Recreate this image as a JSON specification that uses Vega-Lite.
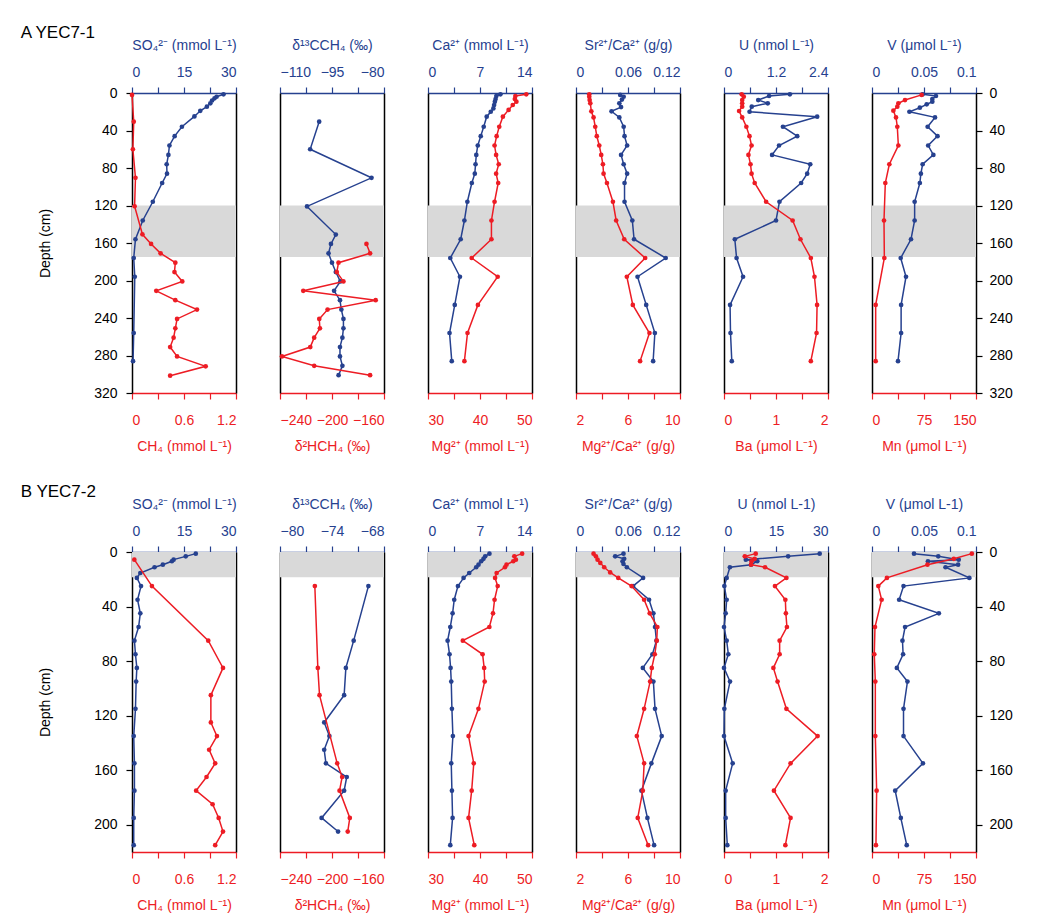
{
"$schema":"https://vega.github.io/schema/vega-lite/v6.json",
"padding":{"left":20,"top":24,"right":10,"bottom":10},
"background":"white",
"config":{
 "font":"Liberation Sans",
 "view":{"stroke":null},
 "axis":{"labelFont":"Liberation Sans","titleFont":"Liberation Sans","labelFontSize":14,"titleFontSize":14,"titleFontWeight":"normal","tickSize":6,"domainWidth":1.5,"tickWidth":1.2,"grid":false,"labelPadding":5,"titlePadding":10,"zindex":1},
 "axisTop":{"domainColor":"#26418f","tickColor":"#26418f","labelColor":"#26418f","titleColor":"#26418f","labelPadding":8,"titlePadding":13},
 "axisBottom":{"domainColor":"#ed1c24","tickColor":"#ed1c24","labelColor":"#ed1c24","titleColor":"#ed1c24","labelPadding":14,"titlePadding":12},
 "axisLeft":{"domainColor":"#000000","tickColor":"#000000","labelColor":"#000000","titleColor":"#000000","labelPadding":9,"titlePadding":41},
 "axisRight":{"domainColor":"#000000","tickColor":"#000000","labelColor":"#000000","titleColor":"#000000","labelPadding":7},
 "title":{"font":"Liberation Sans","fontSize":17,"fontWeight":"normal","anchor":"start","color":"#000000"}
},
"datasets":{
 "bandA":[{"d0":120,"d1":175}],
 "bandB":[{"d0":0,"d1":18.5}],
 "A":[
  {"v":"SO4","d":1.4,"x":26.4},{"v":"SO4","d":4,"x":24.4},{"v":"SO4","d":5.7,"x":23.8},{"v":"SO4","d":8,"x":23.1},{"v":"SO4","d":11,"x":22.6},{"v":"SO4","d":14.6,"x":21.6},{"v":"SO4","d":19,"x":19.7},{"v":"SO4","d":25,"x":18.0},{"v":"SO4","d":36,"x":14.4},{"v":"SO4","d":46,"x":12.3},{"v":"SO4","d":56,"x":10.8},{"v":"SO4","d":66,"x":10.5},{"v":"SO4","d":76,"x":10.0},{"v":"SO4","d":86,"x":10.1},{"v":"SO4","d":96,"x":8.7},{"v":"SO4","d":116,"x":6.0},{"v":"SO4","d":136,"x":3.1},{"v":"SO4","d":156,"x":1.0},{"v":"SO4","d":176,"x":0.5},{"v":"SO4","d":196,"x":0.8},{"v":"SO4","d":256,"x":0.5},{"v":"SO4","d":286,"x":0.3},
  {"v":"CH4","d":2,"x":0},{"v":"CH4","d":30.6,"x":0.02},{"v":"CH4","d":60,"x":0.01},{"v":"CH4","d":90.5,"x":0.04},{"v":"CH4","d":120.8,"x":0.03},{"v":"CH4","d":150.7,"x":0.12},{"v":"CH4","d":161,"x":0.22},{"v":"CH4","d":171,"x":0.33},{"v":"CH4","d":181,"x":0.50},{"v":"CH4","d":191,"x":0.49},{"v":"CH4","d":201,"x":0.58},{"v":"CH4","d":211,"x":0.28},{"v":"CH4","d":221,"x":0.50},{"v":"CH4","d":231,"x":0.75},{"v":"CH4","d":241,"x":0.52},{"v":"CH4","d":251,"x":0.50},{"v":"CH4","d":261,"x":0.48},{"v":"CH4","d":271,"x":0.44},{"v":"CH4","d":281,"x":0.52},{"v":"CH4","d":291.5,"x":0.85},{"v":"CH4","d":301.5,"x":0.44},
  {"v":"C13","d":30.6,"x":-98.7},{"v":"C13","d":60,"x":-101.3},{"v":"C13","d":90.5,"x":-83.6},{"v":"C13","d":121,"x":-102.2},{"v":"C13","d":151,"x":-93.9},{"v":"C13","d":161,"x":-95.3},{"v":"C13","d":171,"x":-96.0},{"v":"C13","d":181,"x":-95.0},{"v":"C13","d":191,"x":-93.9},{"v":"C13","d":201,"x":-92.6},{"v":"C13","d":211,"x":-94.4},{"v":"C13","d":221,"x":-92.7},{"v":"C13","d":231,"x":-92.3},{"v":"C13","d":241,"x":-91.7},{"v":"C13","d":251,"x":-91.7},{"v":"C13","d":261,"x":-92.0},{"v":"C13","d":271,"x":-92.7},{"v":"C13","d":281,"x":-92.7},{"v":"C13","d":291,"x":-92.0},{"v":"C13","d":301,"x":-93.1},
  {"v":"H2","d":161,"x":-173.5},{"v":"H2","d":171,"x":-170.7},{"v":"H2","d":181,"x":-195.0},{"v":"H2","d":191,"x":-196.3},{"v":"H2","d":201,"x":-191.2},{"v":"H2","d":211,"x":-222.1},{"v":"H2","d":221,"x":-166.4},{"v":"H2","d":231,"x":-203.4},{"v":"H2","d":241,"x":-209.8},{"v":"H2","d":251,"x":-209.3},{"v":"H2","d":261,"x":-213.7},{"v":"H2","d":271,"x":-216.7},{"v":"H2","d":281,"x":-238.5},{"v":"H2","d":291,"x":-213.7},{"v":"H2","d":301,"x":-170.7},
  {"v":"Ca","d":1.4,"x":9.75},{"v":"Ca","d":3.2,"x":9.2},{"v":"Ca","d":6.4,"x":9.1},{"v":"Ca","d":9.3,"x":9.0},{"v":"Ca","d":12.8,"x":8.9},{"v":"Ca","d":16.4,"x":8.8},{"v":"Ca","d":20,"x":8.45},{"v":"Ca","d":25.3,"x":7.9},{"v":"Ca","d":36,"x":7.5},{"v":"Ca","d":46,"x":7.1},{"v":"Ca","d":56,"x":6.7},{"v":"Ca","d":66,"x":6.5},{"v":"Ca","d":76,"x":6.4},{"v":"Ca","d":86,"x":6.3},{"v":"Ca","d":96,"x":5.9},{"v":"Ca","d":116,"x":5.3},{"v":"Ca","d":136,"x":4.9},{"v":"Ca","d":156,"x":4.4},{"v":"Ca","d":176,"x":3.0},{"v":"Ca","d":196,"x":4.3},{"v":"Ca","d":226,"x":3.6},{"v":"Ca","d":256,"x":2.9},{"v":"Ca","d":286,"x":3.2},
  {"v":"Mg","d":1.4,"x":48.9},{"v":"Mg","d":3.2,"x":46.8},{"v":"Mg","d":6.4,"x":46.7},{"v":"Mg","d":9.3,"x":47.0},{"v":"Mg","d":12.8,"x":46.3},{"v":"Mg","d":18,"x":45.5},{"v":"Mg","d":25.3,"x":44.4},{"v":"Mg","d":36,"x":43.7},{"v":"Mg","d":46,"x":43.2},{"v":"Mg","d":56,"x":42.8},{"v":"Mg","d":66,"x":43.1},{"v":"Mg","d":76,"x":43.6},{"v":"Mg","d":86,"x":43.1},{"v":"Mg","d":96,"x":43.5},{"v":"Mg","d":116,"x":42.8},{"v":"Mg","d":136,"x":42.2},{"v":"Mg","d":156,"x":42.2},{"v":"Mg","d":176,"x":38.4},{"v":"Mg","d":196,"x":43.4},{"v":"Mg","d":226,"x":39.6},{"v":"Mg","d":256,"x":37.6},{"v":"Mg","d":286,"x":37.0},
  {"v":"SrCa","d":2,"x":0.051},{"v":"SrCa","d":4,"x":0.055},{"v":"SrCa","d":7,"x":0.053},{"v":"SrCa","d":11,"x":0.050},{"v":"SrCa","d":15,"x":0.052},{"v":"SrCa","d":19.5,"x":0.041},{"v":"SrCa","d":26,"x":0.050},{"v":"SrCa","d":36,"x":0.055},{"v":"SrCa","d":46,"x":0.056},{"v":"SrCa","d":56,"x":0.059},{"v":"SrCa","d":66,"x":0.052},{"v":"SrCa","d":76,"x":0.055},{"v":"SrCa","d":86,"x":0.059},{"v":"SrCa","d":96,"x":0.056},{"v":"SrCa","d":116,"x":0.056},{"v":"SrCa","d":136,"x":0.065},{"v":"SrCa","d":156,"x":0.067},{"v":"SrCa","d":176,"x":0.1035},{"v":"SrCa","d":196,"x":0.071},{"v":"SrCa","d":226,"x":0.081},{"v":"SrCa","d":256,"x":0.091},{"v":"SrCa","d":286,"x":0.089},
  {"v":"MgCa","d":1.4,"x":3.02},{"v":"MgCa","d":4,"x":3.02},{"v":"MgCa","d":7.5,"x":3.05},{"v":"MgCa","d":11,"x":3.1},{"v":"MgCa","d":19.5,"x":3.18},{"v":"MgCa","d":26,"x":3.35},{"v":"MgCa","d":36,"x":3.48},{"v":"MgCa","d":46,"x":3.6},{"v":"MgCa","d":56,"x":3.79},{"v":"MgCa","d":66,"x":3.94},{"v":"MgCa","d":76,"x":4.07},{"v":"MgCa","d":86,"x":4.12},{"v":"MgCa","d":96,"x":4.38},{"v":"MgCa","d":116,"x":4.84},{"v":"MgCa","d":136,"x":5.09},{"v":"MgCa","d":156,"x":5.71},{"v":"MgCa","d":176,"x":7.32},{"v":"MgCa","d":196,"x":5.91},{"v":"MgCa","d":226,"x":6.37},{"v":"MgCa","d":256,"x":7.65},{"v":"MgCa","d":286,"x":6.93},
  {"v":"U","d":1.4,"x":1.52},{"v":"U","d":3.2,"x":1.04},{"v":"U","d":7.5,"x":0.79},{"v":"U","d":11,"x":1.01},{"v":"U","d":14.6,"x":0.64},{"v":"U","d":20,"x":0.59},{"v":"U","d":25.3,"x":2.15},{"v":"U","d":36,"x":1.36},{"v":"U","d":46,"x":1.69},{"v":"U","d":56,"x":1.27},{"v":"U","d":66,"x":1.11},{"v":"U","d":76,"x":1.99},{"v":"U","d":86,"x":1.92},{"v":"U","d":96,"x":1.78},{"v":"U","d":116,"x":1.28},{"v":"U","d":136,"x":1.20},{"v":"U","d":156,"x":0.25},{"v":"U","d":176,"x":0.29},{"v":"U","d":196,"x":0.44},{"v":"U","d":226,"x":0.14},{"v":"U","d":256,"x":0.15},{"v":"U","d":286,"x":0.18},
  {"v":"Ba","d":1.4,"x":0.34},{"v":"Ba","d":3.9,"x":0.38},{"v":"Ba","d":7.5,"x":0.35},{"v":"Ba","d":11,"x":0.35},{"v":"Ba","d":14.6,"x":0.35},{"v":"Ba","d":19.2,"x":0.29},{"v":"Ba","d":26,"x":0.35},{"v":"Ba","d":36,"x":0.43},{"v":"Ba","d":46,"x":0.49},{"v":"Ba","d":56,"x":0.53},{"v":"Ba","d":66,"x":0.47},{"v":"Ba","d":76,"x":0.51},{"v":"Ba","d":86,"x":0.53},{"v":"Ba","d":96,"x":0.59},{"v":"Ba","d":116,"x":0.81},{"v":"Ba","d":136,"x":1.32},{"v":"Ba","d":156,"x":1.47},{"v":"Ba","d":176,"x":1.67},{"v":"Ba","d":196,"x":1.74},{"v":"Ba","d":226,"x":1.79},{"v":"Ba","d":256,"x":1.78},{"v":"Ba","d":286,"x":1.67},
  {"v":"V","d":1.4,"x":0.0487},{"v":"V","d":3.2,"x":0.0615},{"v":"V","d":6.4,"x":0.058},{"v":"V","d":9.3,"x":0.058},{"v":"V","d":12.1,"x":0.0526},{"v":"V","d":15.7,"x":0.046},{"v":"V","d":20,"x":0.036},{"v":"V","d":26,"x":0.0606},{"v":"V","d":36,"x":0.0535},{"v":"V","d":46,"x":0.063},{"v":"V","d":56,"x":0.054},{"v":"V","d":66,"x":0.059},{"v":"V","d":76,"x":0.0487},{"v":"V","d":86,"x":0.047},{"v":"V","d":96,"x":0.046},{"v":"V","d":116,"x":0.041},{"v":"V","d":136,"x":0.041},{"v":"V","d":156,"x":0.0375},{"v":"V","d":176,"x":0.0276},{"v":"V","d":196,"x":0.0327},{"v":"V","d":226,"x":0.028},{"v":"V","d":256,"x":0.028},{"v":"V","d":286,"x":0.025},
  {"v":"Mn","d":2,"x":71.6},{"v":"Mn","d":7.5,"x":47.6},{"v":"Mn","d":11,"x":38.0},{"v":"Mn","d":14.6,"x":36.5},{"v":"Mn","d":18.9,"x":30.8},{"v":"Mn","d":26,"x":34.6},{"v":"Mn","d":36,"x":36.5},{"v":"Mn","d":56,"x":38.0},{"v":"Mn","d":76,"x":25.0},{"v":"Mn","d":96,"x":19.2},{"v":"Mn","d":136,"x":17.3},{"v":"Mn","d":176,"x":17.8},{"v":"Mn","d":226,"x":5.3},{"v":"Mn","d":286,"x":5.3}
 ],
 "B":[
  {"v":"SO4","d":1.2,"x":18.4},{"v":"SO4","d":3.2,"x":15.5},{"v":"SO4","d":5.6,"x":12.0},{"v":"SO4","d":6.8,"x":11.5},{"v":"SO4","d":9.3,"x":8.9},{"v":"SO4","d":11.2,"x":6.5},{"v":"SO4","d":15.4,"x":2.4},{"v":"SO4","d":19,"x":1.4},{"v":"SO4","d":25,"x":2.6},{"v":"SO4","d":35,"x":1.6},{"v":"SO4","d":45,"x":2.4},{"v":"SO4","d":55,"x":1.9},{"v":"SO4","d":65,"x":0.7},{"v":"SO4","d":75,"x":1.0},{"v":"SO4","d":85,"x":1.4},{"v":"SO4","d":95,"x":1.2},{"v":"SO4","d":115,"x":1.0},{"v":"SO4","d":135,"x":0.5},{"v":"SO4","d":155,"x":0.7},{"v":"SO4","d":175,"x":0.7},{"v":"SO4","d":195,"x":0.5},{"v":"SO4","d":215,"x":0.5},
  {"v":"CH4","d":5.6,"x":0.027},{"v":"CH4","d":25,"x":0.23},{"v":"CH4","d":65,"x":0.88},{"v":"CH4","d":85,"x":1.05},{"v":"CH4","d":105,"x":0.91},{"v":"CH4","d":125,"x":0.91},{"v":"CH4","d":135,"x":0.98},{"v":"CH4","d":145,"x":0.89},{"v":"CH4","d":155,"x":0.96},{"v":"CH4","d":165,"x":0.86},{"v":"CH4","d":175,"x":0.74},{"v":"CH4","d":185,"x":0.93},{"v":"CH4","d":195,"x":1.00},{"v":"CH4","d":205,"x":1.05},{"v":"CH4","d":215,"x":0.96},
  {"v":"C13","d":25,"x":-69.8},{"v":"C13","d":65,"x":-71.5},{"v":"C13","d":85,"x":-72.4},{"v":"C13","d":105,"x":-72.6},{"v":"C13","d":125,"x":-74.9},{"v":"C13","d":135,"x":-74.3},{"v":"C13","d":145,"x":-74.9},{"v":"C13","d":155,"x":-74.7},{"v":"C13","d":165,"x":-72.3},{"v":"C13","d":175,"x":-72.6},{"v":"C13","d":195,"x":-75.2},{"v":"C13","d":205,"x":-73.3},
  {"v":"H2","d":25,"x":-213.2},{"v":"H2","d":85,"x":-210.9},{"v":"H2","d":105,"x":-209.6},{"v":"H2","d":155,"x":-196.0},{"v":"H2","d":165,"x":-192.2},{"v":"H2","d":175,"x":-194.2},{"v":"H2","d":195,"x":-186.3},{"v":"H2","d":205,"x":-187.9},
  {"v":"Ca","d":1.2,"x":8.27},{"v":"Ca","d":3.2,"x":7.7},{"v":"Ca","d":5,"x":7.47},{"v":"Ca","d":6.8,"x":7.16},{"v":"Ca","d":9.3,"x":6.8},{"v":"Ca","d":11.2,"x":6.49},{"v":"Ca","d":15.4,"x":5.55},{"v":"Ca","d":19,"x":4.79},{"v":"Ca","d":25,"x":4.03},{"v":"Ca","d":35,"x":3.53},{"v":"Ca","d":45,"x":3.31},{"v":"Ca","d":55,"x":3.0},{"v":"Ca","d":65,"x":2.64},{"v":"Ca","d":75,"x":2.9},{"v":"Ca","d":85,"x":3.04},{"v":"Ca","d":95,"x":3.13},{"v":"Ca","d":115,"x":3.22},{"v":"Ca","d":135,"x":3.35},{"v":"Ca","d":155,"x":3.13},{"v":"Ca","d":175,"x":3.22},{"v":"Ca","d":195,"x":3.31},{"v":"Ca","d":215,"x":3.0},
  {"v":"Mg","d":1.2,"x":48.1},{"v":"Mg","d":3.2,"x":46.6},{"v":"Mg","d":5.6,"x":46.9},{"v":"Mg","d":6.8,"x":46.4},{"v":"Mg","d":9.3,"x":45.1},{"v":"Mg","d":11.2,"x":44.8},{"v":"Mg","d":15.4,"x":43.2},{"v":"Mg","d":19,"x":42.9},{"v":"Mg","d":25,"x":43.4},{"v":"Mg","d":35,"x":42.8},{"v":"Mg","d":45,"x":42.5},{"v":"Mg","d":55,"x":41.8},{"v":"Mg","d":65,"x":36.7},{"v":"Mg","d":75,"x":40.5},{"v":"Mg","d":85,"x":40.8},{"v":"Mg","d":95,"x":40.9},{"v":"Mg","d":115,"x":39.7},{"v":"Mg","d":135,"x":37.8},{"v":"Mg","d":155,"x":38.8},{"v":"Mg","d":175,"x":38.4},{"v":"Mg","d":195,"x":37.8},{"v":"Mg","d":215,"x":38.9},
  {"v":"SrCa","d":1.2,"x":0.0548},{"v":"SrCa","d":3.2,"x":0.0452},{"v":"SrCa","d":5,"x":0.0556},{"v":"SrCa","d":6.8,"x":0.0537},{"v":"SrCa","d":8.8,"x":0.0548},{"v":"SrCa","d":11.2,"x":0.0587},{"v":"SrCa","d":19,"x":0.0774},{"v":"SrCa","d":25,"x":0.0659},{"v":"SrCa","d":35,"x":0.0843},{"v":"SrCa","d":45,"x":0.0893},{"v":"SrCa","d":55,"x":0.0912},{"v":"SrCa","d":65,"x":0.0928},{"v":"SrCa","d":75,"x":0.0882},{"v":"SrCa","d":85,"x":0.0771},{"v":"SrCa","d":95,"x":0.0893},{"v":"SrCa","d":115,"x":0.0912},{"v":"SrCa","d":135,"x":0.0989},{"v":"SrCa","d":155,"x":0.087},{"v":"SrCa","d":175,"x":0.0755},{"v":"SrCa","d":195,"x":0.0824},{"v":"SrCa","d":215,"x":0.0901},
  {"v":"MgCa","d":1.2,"x":3.35},{"v":"MgCa","d":3.2,"x":3.53},{"v":"MgCa","d":5.6,"x":3.66},{"v":"MgCa","d":8,"x":3.87},{"v":"MgCa","d":11.2,"x":4.17},{"v":"MgCa","d":15,"x":4.63},{"v":"MgCa","d":19,"x":5.25},{"v":"MgCa","d":25,"x":6.27},{"v":"MgCa","d":35,"x":7.24},{"v":"MgCa","d":45,"x":7.67},{"v":"MgCa","d":55,"x":8.26},{"v":"MgCa","d":65,"x":8.21},{"v":"MgCa","d":75,"x":8.06},{"v":"MgCa","d":85,"x":7.83},{"v":"MgCa","d":95,"x":7.70},{"v":"MgCa","d":115,"x":7.24},{"v":"MgCa","d":135,"x":6.68},{"v":"MgCa","d":155,"x":7.24},{"v":"MgCa","d":175,"x":7.14},{"v":"MgCa","d":195,"x":6.75},{"v":"MgCa","d":215,"x":7.55},
  {"v":"U","d":1.2,"x":27.6},{"v":"U","d":3.2,"x":18.5},{"v":"U","d":5.6,"x":6.3},{"v":"U","d":6.8,"x":9.6},{"v":"U","d":9.3,"x":7.8},{"v":"U","d":11.2,"x":1.7},{"v":"U","d":19,"x":0.77},{"v":"U","d":25,"x":0.1},{"v":"U","d":35,"x":0.77},{"v":"U","d":45,"x":0.48},{"v":"U","d":55,"x":0},{"v":"U","d":65,"x":0.77},{"v":"U","d":75,"x":1.25},{"v":"U","d":85,"x":0},{"v":"U","d":95,"x":1.73},{"v":"U","d":115,"x":0.1},{"v":"U","d":135,"x":0},{"v":"U","d":155,"x":2.5},{"v":"U","d":175,"x":0.48},{"v":"U","d":195,"x":0.48},{"v":"U","d":215,"x":0.96},
  {"v":"Ba","d":1.2,"x":0.61},{"v":"Ba","d":3.2,"x":0.40},{"v":"Ba","d":5,"x":0.59},{"v":"Ba","d":6.8,"x":0.53},{"v":"Ba","d":9.3,"x":0.52},{"v":"Ba","d":11.2,"x":0.79},{"v":"Ba","d":19,"x":1.20},{"v":"Ba","d":25,"x":0.98},{"v":"Ba","d":35,"x":1.18},{"v":"Ba","d":45,"x":1.19},{"v":"Ba","d":55,"x":1.21},{"v":"Ba","d":65,"x":1.07},{"v":"Ba","d":75,"x":1.07},{"v":"Ba","d":85,"x":0.95},{"v":"Ba","d":95,"x":1.03},{"v":"Ba","d":115,"x":1.20},{"v":"Ba","d":135,"x":1.80},{"v":"Ba","d":155,"x":1.28},{"v":"Ba","d":175,"x":0.96},{"v":"Ba","d":195,"x":1.28},{"v":"Ba","d":215,"x":1.18},
  {"v":"V","d":1.2,"x":0.0404},{"v":"V","d":3.2,"x":0.0637},{"v":"V","d":5.6,"x":0.0834},{"v":"V","d":6.8,"x":0.0538},{"v":"V","d":9.3,"x":0.0828},{"v":"V","d":11.2,"x":0.0707},{"v":"V","d":19,"x":0.0936},{"v":"V","d":25,"x":0.0303},{"v":"V","d":35,"x":0.0261},{"v":"V","d":45,"x":0.0643},{"v":"V","d":55,"x":0.0318},{"v":"V","d":65,"x":0.0293},{"v":"V","d":75,"x":0.0299},{"v":"V","d":85,"x":0.0239},{"v":"V","d":95,"x":0.0341},{"v":"V","d":115,"x":0.0303},{"v":"V","d":135,"x":0.0303},{"v":"V","d":155,"x":0.049},{"v":"V","d":175,"x":0.0223},{"v":"V","d":195,"x":0.0277},{"v":"V","d":215,"x":0.0334},
  {"v":"Mn","d":1.2,"x":144},{"v":"Mn","d":5,"x":118},{"v":"Mn","d":9.3,"x":80},{"v":"Mn","d":19,"x":21.5},{"v":"Mn","d":25,"x":9.1},{"v":"Mn","d":35,"x":13.9},{"v":"Mn","d":55,"x":4.3},{"v":"Mn","d":75,"x":3.3},{"v":"Mn","d":95,"x":4.8},{"v":"Mn","d":135,"x":4.8},{"v":"Mn","d":175,"x":6.7},{"v":"Mn","d":215,"x":5.7}
 ]
},
"spacing":30,
"bounds":"full",
"vconcat":[
 {"title":{"text":"A  YEC7-1","dx":-18,"offset":-4,"frame":"bounds"},
  "spacing":44,"bounds":"flush","resolve":{"scale":{"x":"independent","y":"independent"}},
  "hconcat":[
   {"width":104,"height":300,"resolve":{"scale":{"x":"independent"},"axis":{"y":"independent"}},"layer":[
    {"data":{"name":"bandA"},"mark":{"type":"rect","color":"#d9d9d9"},"encoding":{"y":{"field":"d0","type":"quantitative","scale":{"domain":[0,320],"reverse":true,"nice":false,"zero":false},"axis":{"orient":"left","values":[0,40,80,120,160,200,240,280,320],"title":"Depth (cm)"}},"y2":{"field":"d1"}}},
    {"data":{"name":"A"},"transform":[{"filter":"datum.v=='SO4'"}],"mark":{"type":"line","color":"#26418f","strokeWidth":1.5,"point":{"filled":true,"size":22,"color":"#26418f"}},"encoding":{"x":{"field":"x","type":"quantitative","scale":{"domain":[0,30],"nice":false,"zero":false},"axis":{"orient":"top","title":"SO₄²⁻ (mmol L⁻¹)","values":[0,7.5,15,22.5,30],"format":"~f","labelExpr":"indexof([0,15,30],datum.value)<0?'':datum.label"}},"y":{"field":"d","type":"quantitative","scale":{"domain":[0,320],"reverse":true,"nice":false,"zero":false},"axis":{"orient":"right","labels":false,"ticks":false,"title":null}},"order":{"field":"d","type":"quantitative"}}},
    {"data":{"name":"A"},"transform":[{"filter":"datum.v=='CH4'"}],"mark":{"type":"line","color":"#ed1c24","strokeWidth":1.5,"point":{"filled":true,"size":22,"color":"#ed1c24"}},"encoding":{"x":{"field":"x","type":"quantitative","scale":{"domain":[0,1.2],"nice":false,"zero":false},"axis":{"orient":"bottom","title":"CH₄ (mmol L⁻¹)","values":[0,0.3,0.6,0.9,1.2],"format":"~f","labelExpr":"indexof([0,0.6,1.2],datum.value)<0?'':datum.label"}},"y":{"field":"d","type":"quantitative","scale":{"domain":[0,320],"reverse":true,"nice":false,"zero":false},"axis":null},"order":{"field":"d","type":"quantitative"}}}
   ]},
   {"width":104,"height":300,"resolve":{"scale":{"x":"independent"},"axis":{"y":"independent"}},"layer":[
    {"data":{"name":"bandA"},"mark":{"type":"rect","color":"#d9d9d9"},"encoding":{"y":{"field":"d0","type":"quantitative","scale":{"domain":[0,320],"reverse":true,"nice":false,"zero":false},"axis":{"orient":"left","labels":false,"ticks":false,"title":null}},"y2":{"field":"d1"}}},
    {"data":{"name":"A"},"transform":[{"filter":"datum.v=='C13'"}],"mark":{"type":"line","color":"#26418f","strokeWidth":1.5,"point":{"filled":true,"size":22,"color":"#26418f"}},"encoding":{"x":{"field":"x","type":"quantitative","scale":{"domain":[-110,-80],"nice":false,"zero":false},"axis":{"orient":"top","title":"δ¹³CCH₄ (‰)","values":[-110,-102.5,-95,-87.5,-80],"format":"~f","labelExpr":"indexof([-110,-95,-80],datum.value)<0?'':datum.label"}},"y":{"field":"d","type":"quantitative","scale":{"domain":[0,320],"reverse":true,"nice":false,"zero":false},"axis":{"orient":"right","labels":false,"ticks":false,"title":null}},"order":{"field":"d","type":"quantitative"}}},
    {"data":{"name":"A"},"transform":[{"filter":"datum.v=='H2'"}],"mark":{"type":"line","color":"#ed1c24","strokeWidth":1.5,"point":{"filled":true,"size":22,"color":"#ed1c24"}},"encoding":{"x":{"field":"x","type":"quantitative","scale":{"domain":[-240,-160],"nice":false,"zero":false},"axis":{"orient":"bottom","title":"δ²HCH₄ (‰)","values":[-240,-220,-200,-180,-160],"format":"~f","labelExpr":"indexof([-240,-200,-160],datum.value)<0?'':datum.label"}},"y":{"field":"d","type":"quantitative","scale":{"domain":[0,320],"reverse":true,"nice":false,"zero":false},"axis":null},"order":{"field":"d","type":"quantitative"}}}
   ]},
   {"width":104,"height":300,"resolve":{"scale":{"x":"independent"},"axis":{"y":"independent"}},"layer":[
    {"data":{"name":"bandA"},"mark":{"type":"rect","color":"#d9d9d9"},"encoding":{"y":{"field":"d0","type":"quantitative","scale":{"domain":[0,320],"reverse":true,"nice":false,"zero":false},"axis":{"orient":"left","labels":false,"ticks":false,"title":null}},"y2":{"field":"d1"}}},
    {"data":{"name":"A"},"transform":[{"filter":"datum.v=='Ca'"}],"mark":{"type":"line","color":"#26418f","strokeWidth":1.5,"point":{"filled":true,"size":22,"color":"#26418f"}},"encoding":{"x":{"field":"x","type":"quantitative","scale":{"domain":[0,14],"nice":false,"zero":false},"axis":{"orient":"top","title":"Ca²⁺ (mmol L⁻¹)","values":[0,3.5,7,10.5,14],"format":"~f","labelExpr":"indexof([0,7,14],datum.value)<0?'':datum.label"}},"y":{"field":"d","type":"quantitative","scale":{"domain":[0,320],"reverse":true,"nice":false,"zero":false},"axis":{"orient":"right","labels":false,"ticks":false,"title":null}},"order":{"field":"d","type":"quantitative"}}},
    {"data":{"name":"A"},"transform":[{"filter":"datum.v=='Mg'"}],"mark":{"type":"line","color":"#ed1c24","strokeWidth":1.5,"point":{"filled":true,"size":22,"color":"#ed1c24"}},"encoding":{"x":{"field":"x","type":"quantitative","scale":{"domain":[30,50],"nice":false,"zero":false},"axis":{"orient":"bottom","title":"Mg²⁺ (mmol L⁻¹)","values":[30,35,40,45,50],"format":"~f","labelExpr":"indexof([30,40,50],datum.value)<0?'':datum.label"}},"y":{"field":"d","type":"quantitative","scale":{"domain":[0,320],"reverse":true,"nice":false,"zero":false},"axis":null},"order":{"field":"d","type":"quantitative"}}}
   ]},
   {"width":104,"height":300,"resolve":{"scale":{"x":"independent"},"axis":{"y":"independent"}},"layer":[
    {"data":{"name":"bandA"},"mark":{"type":"rect","color":"#d9d9d9"},"encoding":{"y":{"field":"d0","type":"quantitative","scale":{"domain":[0,320],"reverse":true,"nice":false,"zero":false},"axis":{"orient":"left","labels":false,"ticks":false,"title":null}},"y2":{"field":"d1"}}},
    {"data":{"name":"A"},"transform":[{"filter":"datum.v=='SrCa'"}],"mark":{"type":"line","color":"#26418f","strokeWidth":1.5,"point":{"filled":true,"size":22,"color":"#26418f"}},"encoding":{"x":{"field":"x","type":"quantitative","scale":{"domain":[0,0.12],"nice":false,"zero":false},"axis":{"orient":"top","title":"Sr²⁺/Ca²⁺ (g/g)","values":[0,0.03,0.06,0.09,0.12],"format":"~f","labelExpr":"indexof([0,0.06,0.12],datum.value)<0?'':datum.label"}},"y":{"field":"d","type":"quantitative","scale":{"domain":[0,320],"reverse":true,"nice":false,"zero":false},"axis":{"orient":"right","labels":false,"ticks":false,"title":null}},"order":{"field":"d","type":"quantitative"}}},
    {"data":{"name":"A"},"transform":[{"filter":"datum.v=='MgCa'"}],"mark":{"type":"line","color":"#ed1c24","strokeWidth":1.5,"point":{"filled":true,"size":22,"color":"#ed1c24"}},"encoding":{"x":{"field":"x","type":"quantitative","scale":{"domain":[2,10],"nice":false,"zero":false},"axis":{"orient":"bottom","title":"Mg²⁺/Ca²⁺ (g/g)","values":[2,4,6,8,10],"format":"~f","labelExpr":"indexof([2,6,10],datum.value)<0?'':datum.label"}},"y":{"field":"d","type":"quantitative","scale":{"domain":[0,320],"reverse":true,"nice":false,"zero":false},"axis":null},"order":{"field":"d","type":"quantitative"}}}
   ]},
   {"width":104,"height":300,"resolve":{"scale":{"x":"independent"},"axis":{"y":"independent"}},"layer":[
    {"data":{"name":"bandA"},"mark":{"type":"rect","color":"#d9d9d9"},"encoding":{"y":{"field":"d0","type":"quantitative","scale":{"domain":[0,320],"reverse":true,"nice":false,"zero":false},"axis":{"orient":"left","labels":false,"ticks":false,"title":null}},"y2":{"field":"d1"}}},
    {"data":{"name":"A"},"transform":[{"filter":"datum.v=='U'"}],"mark":{"type":"line","color":"#26418f","strokeWidth":1.5,"point":{"filled":true,"size":22,"color":"#26418f"}},"encoding":{"x":{"field":"x","type":"quantitative","scale":{"domain":[0,2.4],"nice":false,"zero":false},"axis":{"orient":"top","title":"U (nmol L⁻¹)","values":[0,0.6,1.2,1.8,2.4],"format":"~f","labelExpr":"indexof([0,1.2,2.4],datum.value)<0?'':datum.label"}},"y":{"field":"d","type":"quantitative","scale":{"domain":[0,320],"reverse":true,"nice":false,"zero":false},"axis":{"orient":"right","labels":false,"ticks":false,"title":null}},"order":{"field":"d","type":"quantitative"}}},
    {"data":{"name":"A"},"transform":[{"filter":"datum.v=='Ba'"}],"mark":{"type":"line","color":"#ed1c24","strokeWidth":1.5,"point":{"filled":true,"size":22,"color":"#ed1c24"}},"encoding":{"x":{"field":"x","type":"quantitative","scale":{"domain":[0,2],"nice":false,"zero":false},"axis":{"orient":"bottom","title":"Ba (μmol L⁻¹)","values":[0,0.5,1,1.5,2],"format":"~f","labelExpr":"indexof([0,1,2],datum.value)<0?'':datum.label"}},"y":{"field":"d","type":"quantitative","scale":{"domain":[0,320],"reverse":true,"nice":false,"zero":false},"axis":null},"order":{"field":"d","type":"quantitative"}}}
   ]},
   {"width":104,"height":300,"resolve":{"scale":{"x":"independent"},"axis":{"y":"independent"}},"layer":[
    {"data":{"name":"bandA"},"mark":{"type":"rect","color":"#d9d9d9"},"encoding":{"y":{"field":"d0","type":"quantitative","scale":{"domain":[0,320],"reverse":true,"nice":false,"zero":false},"axis":{"orient":"left","labels":false,"ticks":false,"title":null}},"y2":{"field":"d1"}}},
    {"data":{"name":"A"},"transform":[{"filter":"datum.v=='V'"}],"mark":{"type":"line","color":"#26418f","strokeWidth":1.5,"point":{"filled":true,"size":22,"color":"#26418f"}},"encoding":{"x":{"field":"x","type":"quantitative","scale":{"domain":[0,0.1],"nice":false,"zero":false},"axis":{"orient":"top","title":"V (μmol L⁻¹)","values":[0,0.025,0.05,0.075,0.1],"format":"~f","labelExpr":"indexof([0,0.05,0.1],datum.value)<0?'':datum.label"}},"y":{"field":"d","type":"quantitative","scale":{"domain":[0,320],"reverse":true,"nice":false,"zero":false},"axis":{"orient":"right","values":[0,40,80,120,160,200,240,280,320],"title":null}},"order":{"field":"d","type":"quantitative"}}},
    {"data":{"name":"A"},"transform":[{"filter":"datum.v=='Mn'"}],"mark":{"type":"line","color":"#ed1c24","strokeWidth":1.5,"point":{"filled":true,"size":22,"color":"#ed1c24"}},"encoding":{"x":{"field":"x","type":"quantitative","scale":{"domain":[0,150],"nice":false,"zero":false},"axis":{"orient":"bottom","title":"Mn (μmol L⁻¹)","values":[0,37.5,75,112.5,150],"format":"~f","labelExpr":"indexof([0,75,150],datum.value)<0?'':datum.label"}},"y":{"field":"d","type":"quantitative","scale":{"domain":[0,320],"reverse":true,"nice":false,"zero":false},"axis":null},"order":{"field":"d","type":"quantitative"}}}
   ]}
  ]},
 {"title":{"text":"B  YEC7-2","dx":-18,"offset":-4,"frame":"bounds"},
  "spacing":44,"bounds":"flush","resolve":{"scale":{"x":"independent","y":"independent"}},
  "hconcat":[
   {"width":104,"height":300,"resolve":{"scale":{"x":"independent"},"axis":{"y":"independent"}},"layer":[
    {"data":{"name":"bandB"},"mark":{"type":"rect","color":"#d9d9d9"},"encoding":{"y":{"field":"d0","type":"quantitative","scale":{"domain":[0,220],"reverse":true,"nice":false,"zero":false},"axis":{"orient":"left","values":[0,40,80,120,160,200],"title":"Depth (cm)"}},"y2":{"field":"d1"}}},
    {"data":{"name":"B"},"transform":[{"filter":"datum.v=='SO4'"}],"mark":{"type":"line","color":"#26418f","strokeWidth":1.5,"point":{"filled":true,"size":22,"color":"#26418f"}},"encoding":{"x":{"field":"x","type":"quantitative","scale":{"domain":[0,30],"nice":false,"zero":false},"axis":{"orient":"top","title":"SO₄²⁻ (mmol L⁻¹)","values":[0,7.5,15,22.5,30],"format":"~f","labelExpr":"indexof([0,15,30],datum.value)<0?'':datum.label"}},"y":{"field":"d","type":"quantitative","scale":{"domain":[0,220],"reverse":true,"nice":false,"zero":false},"axis":{"orient":"right","labels":false,"ticks":false,"title":null}},"order":{"field":"d","type":"quantitative"}}},
    {"data":{"name":"B"},"transform":[{"filter":"datum.v=='CH4'"}],"mark":{"type":"line","color":"#ed1c24","strokeWidth":1.5,"point":{"filled":true,"size":22,"color":"#ed1c24"}},"encoding":{"x":{"field":"x","type":"quantitative","scale":{"domain":[0,1.2],"nice":false,"zero":false},"axis":{"orient":"bottom","title":"CH₄ (mmol L⁻¹)","values":[0,0.3,0.6,0.9,1.2],"format":"~f","labelExpr":"indexof([0,0.6,1.2],datum.value)<0?'':datum.label"}},"y":{"field":"d","type":"quantitative","scale":{"domain":[0,220],"reverse":true,"nice":false,"zero":false},"axis":null},"order":{"field":"d","type":"quantitative"}}}
   ]},
   {"width":104,"height":300,"resolve":{"scale":{"x":"independent"},"axis":{"y":"independent"}},"layer":[
    {"data":{"name":"bandB"},"mark":{"type":"rect","color":"#d9d9d9"},"encoding":{"y":{"field":"d0","type":"quantitative","scale":{"domain":[0,220],"reverse":true,"nice":false,"zero":false},"axis":{"orient":"left","labels":false,"ticks":false,"title":null}},"y2":{"field":"d1"}}},
    {"data":{"name":"B"},"transform":[{"filter":"datum.v=='C13'"}],"mark":{"type":"line","color":"#26418f","strokeWidth":1.5,"point":{"filled":true,"size":22,"color":"#26418f"}},"encoding":{"x":{"field":"x","type":"quantitative","scale":{"domain":[-80,-68],"nice":false,"zero":false},"axis":{"orient":"top","title":"δ¹³CCH₄ (‰)","values":[-80,-77,-74,-71,-68],"format":"~f","labelExpr":"indexof([-80,-74,-68],datum.value)<0?'':datum.label"}},"y":{"field":"d","type":"quantitative","scale":{"domain":[0,220],"reverse":true,"nice":false,"zero":false},"axis":{"orient":"right","labels":false,"ticks":false,"title":null}},"order":{"field":"d","type":"quantitative"}}},
    {"data":{"name":"B"},"transform":[{"filter":"datum.v=='H2'"}],"mark":{"type":"line","color":"#ed1c24","strokeWidth":1.5,"point":{"filled":true,"size":22,"color":"#ed1c24"}},"encoding":{"x":{"field":"x","type":"quantitative","scale":{"domain":[-240,-160],"nice":false,"zero":false},"axis":{"orient":"bottom","title":"δ²HCH₄ (‰)","values":[-240,-220,-200,-180,-160],"format":"~f","labelExpr":"indexof([-240,-200,-160],datum.value)<0?'':datum.label"}},"y":{"field":"d","type":"quantitative","scale":{"domain":[0,220],"reverse":true,"nice":false,"zero":false},"axis":null},"order":{"field":"d","type":"quantitative"}}}
   ]},
   {"width":104,"height":300,"resolve":{"scale":{"x":"independent"},"axis":{"y":"independent"}},"layer":[
    {"data":{"name":"bandB"},"mark":{"type":"rect","color":"#d9d9d9"},"encoding":{"y":{"field":"d0","type":"quantitative","scale":{"domain":[0,220],"reverse":true,"nice":false,"zero":false},"axis":{"orient":"left","labels":false,"ticks":false,"title":null}},"y2":{"field":"d1"}}},
    {"data":{"name":"B"},"transform":[{"filter":"datum.v=='Ca'"}],"mark":{"type":"line","color":"#26418f","strokeWidth":1.5,"point":{"filled":true,"size":22,"color":"#26418f"}},"encoding":{"x":{"field":"x","type":"quantitative","scale":{"domain":[0,14],"nice":false,"zero":false},"axis":{"orient":"top","title":"Ca²⁺ (mmol L⁻¹)","values":[0,3.5,7,10.5,14],"format":"~f","labelExpr":"indexof([0,7,14],datum.value)<0?'':datum.label"}},"y":{"field":"d","type":"quantitative","scale":{"domain":[0,220],"reverse":true,"nice":false,"zero":false},"axis":{"orient":"right","labels":false,"ticks":false,"title":null}},"order":{"field":"d","type":"quantitative"}}},
    {"data":{"name":"B"},"transform":[{"filter":"datum.v=='Mg'"}],"mark":{"type":"line","color":"#ed1c24","strokeWidth":1.5,"point":{"filled":true,"size":22,"color":"#ed1c24"}},"encoding":{"x":{"field":"x","type":"quantitative","scale":{"domain":[30,50],"nice":false,"zero":false},"axis":{"orient":"bottom","title":"Mg²⁺ (mmol L⁻¹)","values":[30,35,40,45,50],"format":"~f","labelExpr":"indexof([30,40,50],datum.value)<0?'':datum.label"}},"y":{"field":"d","type":"quantitative","scale":{"domain":[0,220],"reverse":true,"nice":false,"zero":false},"axis":null},"order":{"field":"d","type":"quantitative"}}}
   ]},
   {"width":104,"height":300,"resolve":{"scale":{"x":"independent"},"axis":{"y":"independent"}},"layer":[
    {"data":{"name":"bandB"},"mark":{"type":"rect","color":"#d9d9d9"},"encoding":{"y":{"field":"d0","type":"quantitative","scale":{"domain":[0,220],"reverse":true,"nice":false,"zero":false},"axis":{"orient":"left","labels":false,"ticks":false,"title":null}},"y2":{"field":"d1"}}},
    {"data":{"name":"B"},"transform":[{"filter":"datum.v=='SrCa'"}],"mark":{"type":"line","color":"#26418f","strokeWidth":1.5,"point":{"filled":true,"size":22,"color":"#26418f"}},"encoding":{"x":{"field":"x","type":"quantitative","scale":{"domain":[0,0.12],"nice":false,"zero":false},"axis":{"orient":"top","title":"Sr²⁺/Ca²⁺ (g/g)","values":[0,0.03,0.06,0.09,0.12],"format":"~f","labelExpr":"indexof([0,0.06,0.12],datum.value)<0?'':datum.label"}},"y":{"field":"d","type":"quantitative","scale":{"domain":[0,220],"reverse":true,"nice":false,"zero":false},"axis":{"orient":"right","labels":false,"ticks":false,"title":null}},"order":{"field":"d","type":"quantitative"}}},
    {"data":{"name":"B"},"transform":[{"filter":"datum.v=='MgCa'"}],"mark":{"type":"line","color":"#ed1c24","strokeWidth":1.5,"point":{"filled":true,"size":22,"color":"#ed1c24"}},"encoding":{"x":{"field":"x","type":"quantitative","scale":{"domain":[2,10],"nice":false,"zero":false},"axis":{"orient":"bottom","title":"Mg²⁺/Ca²⁺ (g/g)","values":[2,4,6,8,10],"format":"~f","labelExpr":"indexof([2,6,10],datum.value)<0?'':datum.label"}},"y":{"field":"d","type":"quantitative","scale":{"domain":[0,220],"reverse":true,"nice":false,"zero":false},"axis":null},"order":{"field":"d","type":"quantitative"}}}
   ]},
   {"width":104,"height":300,"resolve":{"scale":{"x":"independent"},"axis":{"y":"independent"}},"layer":[
    {"data":{"name":"bandB"},"mark":{"type":"rect","color":"#d9d9d9"},"encoding":{"y":{"field":"d0","type":"quantitative","scale":{"domain":[0,220],"reverse":true,"nice":false,"zero":false},"axis":{"orient":"left","labels":false,"ticks":false,"title":null}},"y2":{"field":"d1"}}},
    {"data":{"name":"B"},"transform":[{"filter":"datum.v=='U'"}],"mark":{"type":"line","color":"#26418f","strokeWidth":1.5,"point":{"filled":true,"size":22,"color":"#26418f"}},"encoding":{"x":{"field":"x","type":"quantitative","scale":{"domain":[0,30],"nice":false,"zero":false},"axis":{"orient":"top","title":"U (nmol L-1)","values":[0,7.5,15,22.5,30],"format":"~f","labelExpr":"indexof([0,15,30],datum.value)<0?'':datum.label"}},"y":{"field":"d","type":"quantitative","scale":{"domain":[0,220],"reverse":true,"nice":false,"zero":false},"axis":{"orient":"right","labels":false,"ticks":false,"title":null}},"order":{"field":"d","type":"quantitative"}}},
    {"data":{"name":"B"},"transform":[{"filter":"datum.v=='Ba'"}],"mark":{"type":"line","color":"#ed1c24","strokeWidth":1.5,"point":{"filled":true,"size":22,"color":"#ed1c24"}},"encoding":{"x":{"field":"x","type":"quantitative","scale":{"domain":[0,2],"nice":false,"zero":false},"axis":{"orient":"bottom","title":"Ba (μmol L⁻¹)","values":[0,0.5,1,1.5,2],"format":"~f","labelExpr":"indexof([0,1,2],datum.value)<0?'':datum.label"}},"y":{"field":"d","type":"quantitative","scale":{"domain":[0,220],"reverse":true,"nice":false,"zero":false},"axis":null},"order":{"field":"d","type":"quantitative"}}}
   ]},
   {"width":104,"height":300,"resolve":{"scale":{"x":"independent"},"axis":{"y":"independent"}},"layer":[
    {"data":{"name":"bandB"},"mark":{"type":"rect","color":"#d9d9d9"},"encoding":{"y":{"field":"d0","type":"quantitative","scale":{"domain":[0,220],"reverse":true,"nice":false,"zero":false},"axis":{"orient":"left","labels":false,"ticks":false,"title":null}},"y2":{"field":"d1"}}},
    {"data":{"name":"B"},"transform":[{"filter":"datum.v=='V'"}],"mark":{"type":"line","color":"#26418f","strokeWidth":1.5,"point":{"filled":true,"size":22,"color":"#26418f"}},"encoding":{"x":{"field":"x","type":"quantitative","scale":{"domain":[0,0.1],"nice":false,"zero":false},"axis":{"orient":"top","title":"V (μmol L-1)","values":[0,0.025,0.05,0.075,0.1],"format":"~f","labelExpr":"indexof([0,0.05,0.1],datum.value)<0?'':datum.label"}},"y":{"field":"d","type":"quantitative","scale":{"domain":[0,220],"reverse":true,"nice":false,"zero":false},"axis":{"orient":"right","values":[0,40,80,120,160,200],"title":null}},"order":{"field":"d","type":"quantitative"}}},
    {"data":{"name":"B"},"transform":[{"filter":"datum.v=='Mn'"}],"mark":{"type":"line","color":"#ed1c24","strokeWidth":1.5,"point":{"filled":true,"size":22,"color":"#ed1c24"}},"encoding":{"x":{"field":"x","type":"quantitative","scale":{"domain":[0,150],"nice":false,"zero":false},"axis":{"orient":"bottom","title":"Mn (μmol L⁻¹)","values":[0,37.5,75,112.5,150],"format":"~f","labelExpr":"indexof([0,75,150],datum.value)<0?'':datum.label"}},"y":{"field":"d","type":"quantitative","scale":{"domain":[0,220],"reverse":true,"nice":false,"zero":false},"axis":null},"order":{"field":"d","type":"quantitative"}}}
   ]}
  ]}
]
}
